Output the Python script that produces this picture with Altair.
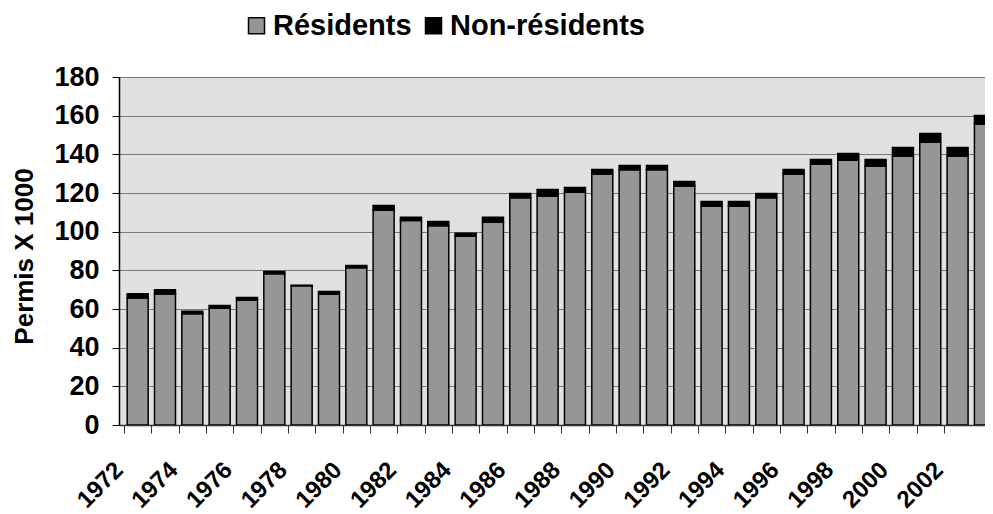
import altair as alt
import pandas as pd

years = list(range(1972, 2004))
residents = [65.7, 67.8, 57.5, 60.4, 64.7, 78.2, 72.0, 67.6, 81.3, 111.1,
             105.8, 103.0, 97.7, 104.9, 117.5, 118.4, 120.4, 129.8, 132.0, 132.0,
             123.6, 113.2, 113.2, 117.5, 129.8, 134.9, 137.0, 133.9, 139.1, 146.3,
             139.1, 155.7]
non_residents = [2.2, 2.2, 1.4, 1.4, 1.3, 1.2, 0.3, 1.5, 1.2, 2.4,
                 1.6, 2.2, 1.5, 2.6, 2.2, 3.4, 2.4, 2.3, 2.2, 2.2,
                 2.3, 2.4, 2.4, 2.2, 2.3, 2.4, 3.4, 3.4, 4.4, 4.5,
                 4.4, 4.4]
series = ["Résidents", "Non-résidents"]
colors = ["#969696", "#000000"]
y_ticks = list(range(0, 181, 20))
x_ticks = [y - 0.5 for y in years[:-1]]

rows = []
for i, yr in enumerate(years):
    rows.append({"year": yr, "serie": series[0], "value": residents[i], "ord": 0})
    rows.append({"year": yr, "serie": series[1], "value": non_residents[i], "ord": 1})
df = pd.DataFrame(rows)

FONT = "Liberation Sans"

chart = alt.Chart(df).mark_bar(size=21, stroke="black", strokeWidth=1.5, clip=True).encode(
    x=alt.X("year:Q",
            scale=alt.Scale(domain=[1971.5, 2002.82], nice=False, zero=False),
            axis=alt.Axis(values=x_ticks, title=None, grid=False,
                          labelExpr="(datum.value + 0.5) % 2 == 0 ? format(datum.value + 0.5, 'd') : ''",
                          labelAngle=-45, labelAlign="right", labelBaseline="middle",
                          labelOffset=-5, labelPadding=33, labelOverlap=False, labelBound=False,
                          labelFlush=False,
                          labelFont=FONT, labelFontSize=24, labelFontWeight="bold", labelColor="black",
                          tickSize=8, tickColor="#333333", tickWidth=1,
                          domainColor="#333333", domainWidth=1.5)),
    y=alt.Y("value:Q", stack="zero",
            scale=alt.Scale(domain=[0, 180], nice=False),
            axis=alt.Axis(values=y_ticks, title="Permis X 1000",
                          titleFont=FONT, titleFontSize=26, titleFontWeight="bold", titleColor="black",
                          titleAngle=270, titleX=-95, titleY=179, titleAlign="center", titleBaseline="middle",
                          labelFont=FONT, labelFontSize=27, labelFontWeight="bold", labelColor="black",
                          labelPadding=13, tickSize=7, tickColor="black", tickWidth=1,
                          domainColor="black", domainWidth=1.5,
                          grid=True, gridColor="#7a7a7a", gridWidth=1.2)),
    color=alt.Color("serie:N",
                    scale=alt.Scale(domain=series, range=colors),
                    legend=alt.Legend(orient="none", legendX=123, legendY=-66, direction="horizontal",
                                      title=None, symbolType="square", symbolSize=256,
                                      symbolStrokeColor="black", symbolStrokeWidth=1.5,
                                      labelFont=FONT, labelFontSize=29, labelFontWeight="bold",
                                      labelColor="black", labelOffset=2, columnPadding=7,
                                      labelLimit=400, padding=0)),
    order=alt.Order("ord:Q"),
).properties(
    width=866, height=348,
    autosize=alt.AutoSizeParams(type="none"),
    padding={"left": 111, "top": 69, "right": 0, "bottom": 89},
).configure_view(fill="#e1e1e1", strokeWidth=0)

chart.save("out.html", embed_options={"renderer": "svg", "actions": False})
